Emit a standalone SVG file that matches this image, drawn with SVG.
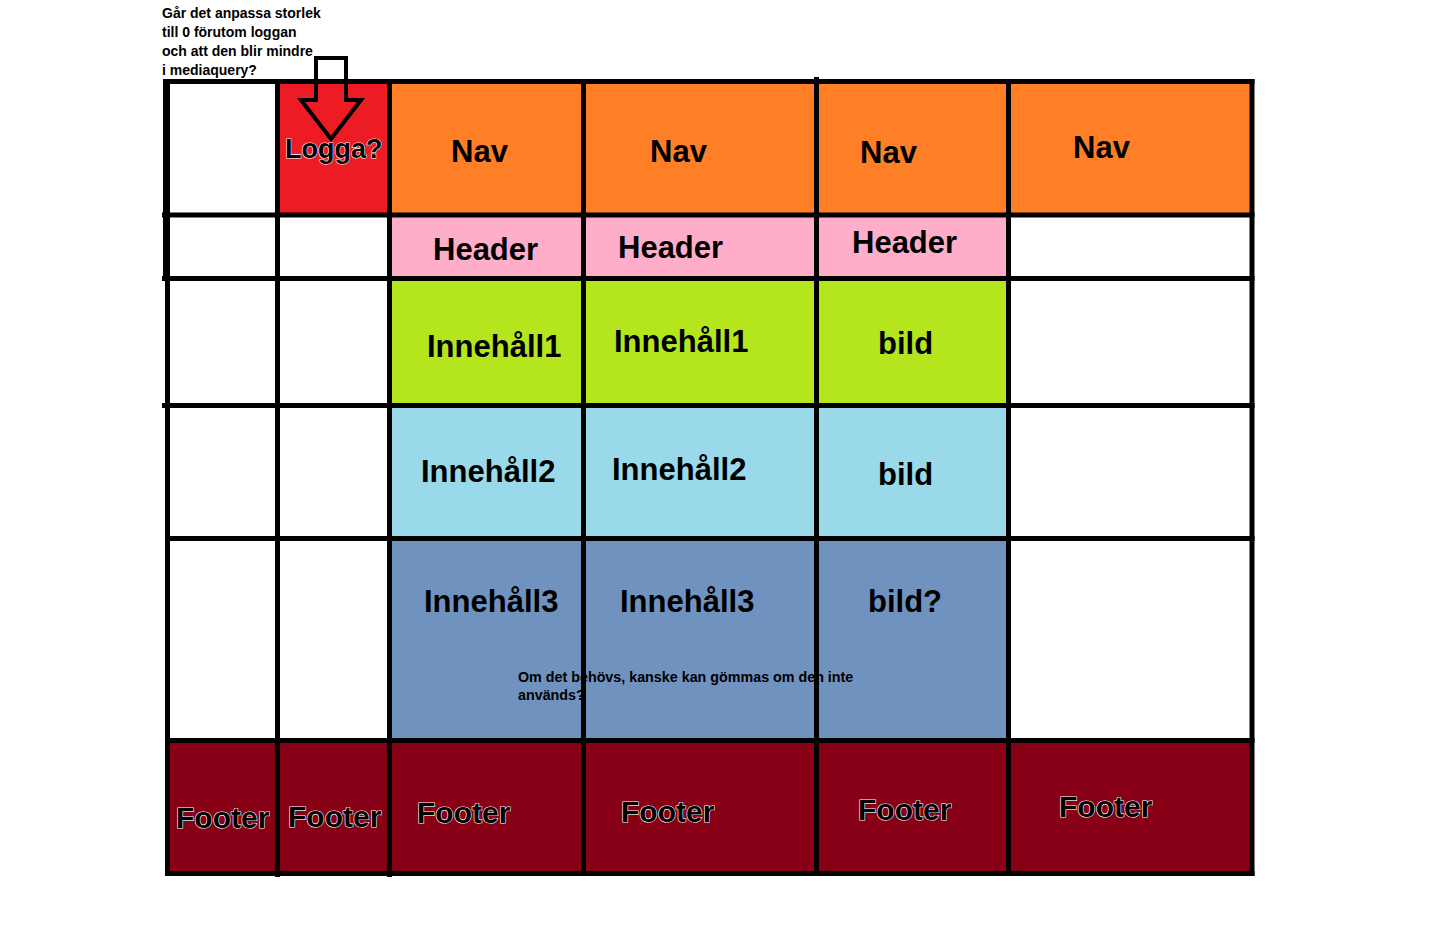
<svg xmlns="http://www.w3.org/2000/svg" width="1440" height="940" viewBox="0 0 1440 940">
<style>
.lbl{font-family:"Liberation Sans",Arial,sans-serif;font-weight:bold;font-size:31px;fill:#000}
.ft{font-family:"Liberation Sans",Arial,sans-serif;font-weight:bold;font-size:30px;fill:#000;stroke:#fff;stroke-width:1.2;paint-order:stroke}
.lg{font-family:"Liberation Sans",Arial,sans-serif;font-weight:bold;font-size:27px;fill:#000;stroke:#fff;stroke-width:1.1;paint-order:stroke}
.note{font-family:"Liberation Sans",Arial,sans-serif;font-weight:bold;font-size:14px;fill:#000}
.note2{font-family:"Liberation Sans",Arial,sans-serif;font-weight:bold;font-size:14.3px;fill:#000}
.w{fill:#fff}.red{fill:#ED1C24}.or{fill:#FF7F27}.pk{fill:#FFAEC9}.gr{fill:#B5E61D}.lb{fill:#99D9EA}.bg{fill:#7092BE}.ftc{fill:#880015}
.grid line{stroke:#000;stroke-width:5}
</style>
<rect width="1440" height="940" fill="#fff"/>
<g id="question">
<text class="note" x="162" y="18">Går det anpassa storlek</text>
<text class="note" x="162" y="37">till 0 förutom loggan</text>
<text class="note" x="162" y="56">och att den blir mindre</text>
<text class="note" x="162" y="75">i mediaquery?</text>
</g>
<!-- row 1 -->
<g id="r1c1"><rect class="w" x="167" y="81" width="111" height="134"/></g>
<g id="r1c2"><rect class="red" x="277" y="81" width="113" height="134"/><text class="lg" x="285" y="158">Logga?</text></g>
<g id="r1c3"><rect class="or" x="389" y="81" width="195" height="134"/><text class="lbl" x="451" y="162">Nav</text></g>
<g id="r1c4"><rect class="or" x="583" y="81" width="234" height="134"/><text class="lbl" x="650" y="162">Nav</text></g>
<g id="r1c5"><rect class="or" x="816" y="81" width="193" height="134"/><text class="lbl" x="860" y="163">Nav</text></g>
<g id="r1c6"><rect class="or" x="1008" y="81" width="244" height="134"/><text class="lbl" x="1073" y="158">Nav</text></g>
<!-- row 2 -->
<g id="r2c3"><rect class="pk" x="389" y="215" width="195" height="64"/><text class="lbl" x="433" y="260">Header</text></g>
<g id="r2c4"><rect class="pk" x="583" y="215" width="234" height="64"/><text class="lbl" x="618" y="258">Header</text></g>
<g id="r2c5"><rect class="pk" x="816" y="215" width="193" height="64"/><text class="lbl" x="852" y="253">Header</text></g>
<!-- row 3 -->
<g id="r3c3"><rect class="gr" x="389" y="278" width="195" height="128"/><text class="lbl" x="427" y="357">Innehåll1</text></g>
<g id="r3c4"><rect class="gr" x="583" y="278" width="234" height="128"/><text class="lbl" x="614" y="352">Innehåll1</text></g>
<g id="r3c5"><rect class="gr" x="816" y="278" width="193" height="128"/><text class="lbl" x="878" y="354">bild</text></g>
<!-- row 4 -->
<g id="r4c3"><rect class="lb" x="389" y="405" width="195" height="134"/><text class="lbl" x="421" y="482">Innehåll2</text></g>
<g id="r4c4"><rect class="lb" x="583" y="405" width="234" height="134"/><text class="lbl" x="612" y="480">Innehåll2</text></g>
<g id="r4c5"><rect class="lb" x="816" y="405" width="193" height="134"/><text class="lbl" x="878" y="485">bild</text></g>
<!-- row 5 -->
<g id="r5c3"><rect class="bg" x="389" y="538" width="195" height="203"/><text class="lbl" x="424" y="612">Innehåll3</text></g>
<g id="r5c4"><rect class="bg" x="583" y="538" width="234" height="203"/><text class="lbl" x="620" y="612">Innehåll3</text></g>
<g id="r5c5"><rect class="bg" x="816" y="538" width="193" height="203"/><text class="lbl" x="868" y="612">bild?</text></g>
<!-- row 6 -->
<g id="r6c1"><rect class="ftc" x="167" y="740" width="111" height="134"/><text class="ft" x="176" y="828">Footer</text></g>
<g id="r6c2"><rect class="ftc" x="277" y="740" width="113" height="134"/><text class="ft" x="288" y="827">Footer</text></g>
<g id="r6c3"><rect class="ftc" x="389" y="740" width="195" height="134"/><text class="ft" x="417" y="823">Footer</text></g>
<g id="r6c4"><rect class="ftc" x="583" y="740" width="234" height="134"/><text class="ft" x="621" y="822">Footer</text></g>
<g id="r6c5"><rect class="ftc" x="816" y="740" width="193" height="134"/><text class="ft" x="858" y="820">Footer</text></g>
<g id="r6c6"><rect class="ftc" x="1008" y="740" width="244" height="134"/><text class="ft" x="1059" y="817">Footer</text></g>
<g id="note"><text class="note2" x="518" y="682">Om det behövs, kanske kan gömmas om den inte</text><text class="note2" x="518" y="700">används?</text></g>
<g id="grid" class="grid">
<line x1="167.5" y1="79" x2="167.5" y2="876"/>
<line x1="277.5" y1="79" x2="277.5" y2="877"/>
<line x1="389.5" y1="79" x2="389.5" y2="877"/>
<line x1="583.5" y1="79" x2="583.5" y2="876"/>
<line x1="816.5" y1="77" x2="816.5" y2="876"/>
<line x1="1008.5" y1="79" x2="1008.5" y2="876"/>
<line x1="1252" y1="79" x2="1252" y2="876"/>
<line x1="165" y1="81.5" x2="1254.5" y2="81.5"/>
<line x1="162" y1="215" x2="1254.5" y2="215"/>
<line x1="162" y1="278.5" x2="1254.5" y2="278.5"/>
<line x1="162" y1="405.5" x2="1254.5" y2="405.5"/>
<line x1="165" y1="538.5" x2="1254.5" y2="538.5"/>
<line x1="165" y1="740.5" x2="1254.5" y2="740.5"/>
<line x1="165" y1="873.5" x2="1254.5" y2="873.5"/>
<rect x="163" y="79" width="5" height="202" fill="#000"/>
</g>
<g id="connectors">
<path d="M316,100 L316,58 L346,58 L346,100 L361,100 L331,139 L301,100 Z" fill="none" stroke="#000" stroke-width="4" stroke-linejoin="miter"/>
</g>
</svg>
